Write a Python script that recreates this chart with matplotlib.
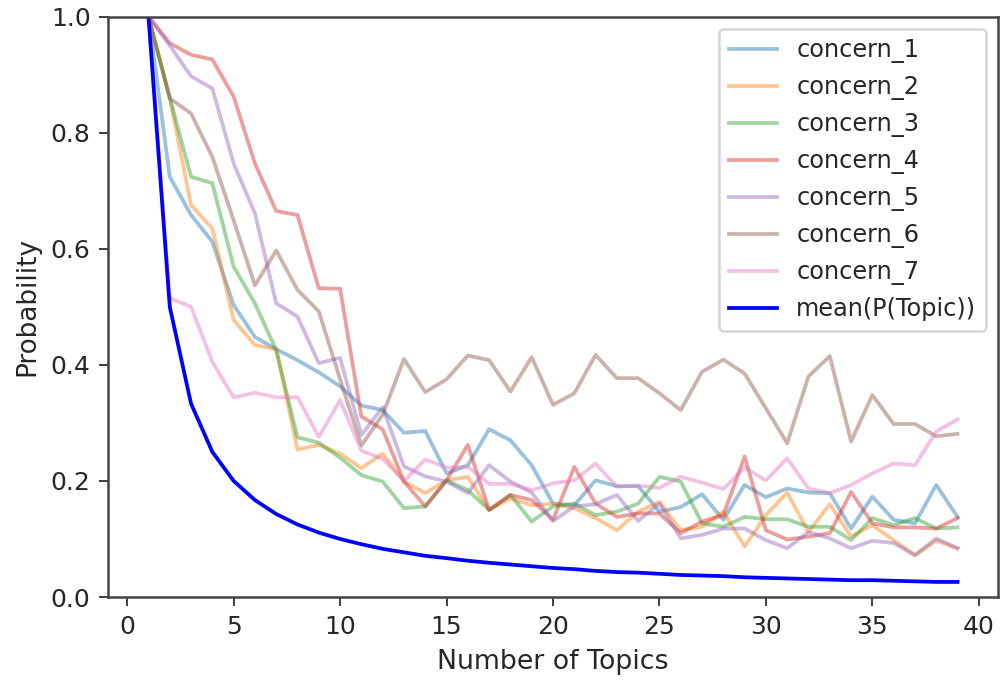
import numpy as np
import matplotlib
matplotlib.use('Agg')
import matplotlib.pyplot as plt

topics = list(range(1, 40))

concern_1 = [1.0, 0.724, 0.658, 0.612, 0.503, 0.448, 0.427, 0.408, 0.387, 0.363,
             0.330, 0.322, 0.283, 0.286, 0.213, 0.227, 0.289, 0.270, 0.227, 0.161,
             0.158, 0.201, 0.191, 0.191, 0.147, 0.155, 0.177, 0.133, 0.193, 0.172,
             0.187, 0.180, 0.179, 0.118, 0.173, 0.133, 0.127, 0.193, 0.138]
concern_2 = [1.0, 0.86, 0.675, 0.635, 0.477, 0.434, 0.427, 0.254, 0.262, 0.247,
             0.222, 0.247, 0.199, 0.179, 0.201, 0.207, 0.150, 0.170, 0.158, 0.161,
             0.153, 0.136, 0.115, 0.147, 0.164, 0.115, 0.121, 0.147, 0.087, 0.141,
             0.180, 0.112, 0.160, 0.104, 0.124, 0.098, 0.072, 0.097, 0.084]
concern_3 = [1.0, 0.86, 0.724, 0.713, 0.569, 0.506, 0.425, 0.275, 0.266, 0.240,
             0.210, 0.199, 0.153, 0.156, 0.201, 0.184, 0.150, 0.176, 0.130, 0.156,
             0.161, 0.141, 0.147, 0.161, 0.207, 0.199, 0.127, 0.121, 0.138, 0.134,
             0.134, 0.121, 0.121, 0.098, 0.136, 0.124, 0.136, 0.118, 0.120]
concern_4 = [1.0, 0.954, 0.934, 0.926, 0.862, 0.747, 0.665, 0.658, 0.532, 0.531,
             0.311, 0.289, 0.199, 0.156, 0.201, 0.262, 0.150, 0.176, 0.167, 0.133,
             0.224, 0.161, 0.138, 0.144, 0.144, 0.110, 0.130, 0.141, 0.242, 0.115,
             0.099, 0.104, 0.110, 0.181, 0.127, 0.120, 0.120, 0.118, 0.136]
concern_5 = [1.0, 0.95, 0.897, 0.876, 0.747, 0.661, 0.506, 0.483, 0.403, 0.412,
             0.279, 0.327, 0.225, 0.208, 0.199, 0.179, 0.227, 0.199, 0.180, 0.131,
             0.156, 0.160, 0.176, 0.131, 0.161, 0.101, 0.107, 0.118, 0.118, 0.098,
             0.084, 0.112, 0.101, 0.084, 0.097, 0.093, 0.072, 0.101, 0.084]
concern_6 = [1.0, 0.859, 0.833, 0.758, 0.649, 0.537, 0.597, 0.529, 0.492, 0.375,
             0.261, 0.314, 0.410, 0.353, 0.375, 0.416, 0.408, 0.354, 0.413, 0.331,
             0.351, 0.417, 0.377, 0.377, 0.351, 0.322, 0.388, 0.409, 0.385, 0.325,
             0.265, 0.380, 0.415, 0.268, 0.348, 0.298, 0.298, 0.277, 0.281]
concern_7 = [1.0, 0.515, 0.500, 0.405, 0.344, 0.352, 0.344, 0.344, 0.276, 0.339,
             0.252, 0.238, 0.200, 0.237, 0.223, 0.224, 0.195, 0.195, 0.184, 0.196,
             0.201, 0.230, 0.190, 0.192, 0.188, 0.207, 0.197, 0.186, 0.223, 0.201,
             0.239, 0.187, 0.179, 0.193, 0.213, 0.230, 0.227, 0.285, 0.306]
mean_p = [1.0, 0.5, 0.333, 0.25, 0.2, 0.167, 0.143, 0.125, 0.111, 0.1,
          0.091, 0.083, 0.077, 0.071, 0.067, 0.0625, 0.059, 0.056, 0.053, 0.05,
          0.048, 0.045, 0.043, 0.042, 0.04, 0.038, 0.037, 0.036, 0.034, 0.033,
          0.032, 0.031, 0.030, 0.029, 0.029, 0.028, 0.027, 0.026, 0.026]

concerns = [concern_1, concern_2, concern_3, concern_4, concern_5, concern_6, concern_7]

plt.rcParams['text.color'] = '#262626'
plt.rcParams['axes.labelcolor'] = '#262626'
plt.rcParams['xtick.labelcolor'] = '#262626'
plt.rcParams['ytick.labelcolor'] = '#262626'
plt.rcParams['xtick.color'] = '#444444'
plt.rcParams['ytick.color'] = '#444444'
plt.rcParams['axes.edgecolor'] = '#444444'
plt.rcParams['axes.linewidth'] = 1.0

fig = plt.figure(figsize=(1003 / 180, 682 / 180), dpi=180)
ax = fig.add_axes([0.1077, 0.1246, 0.8873, 0.8512])

for i, vals in enumerate(concerns):
    ax.plot(topics, vals, alpha=0.45, label='concern_{}'.format(i + 1))
ax.plot(topics, mean_p, color='blue', label='mean(P(Topic))')

ax.set_ylim(0, 1.0)
ax.set_xlabel('Number of Topics', fontsize=10.7)
ax.set_ylabel('Probability', fontsize=10.5)
ax.legend(loc='upper right', fontsize=9.6)

fig.savefig('out.png', dpi=180)
